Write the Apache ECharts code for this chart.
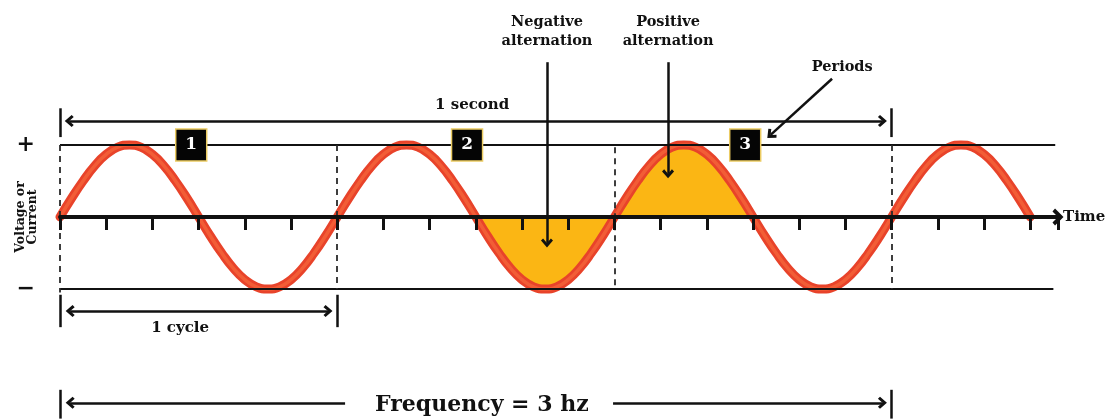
<!DOCTYPE html>
<html>
<head>
<meta charset="utf-8">
<script src="https://cdn.jsdelivr.net/npm/echarts@6/dist/echarts.min.js"></script>
<style>
html,body{margin:0;padding:0;background:#fff;}
#chart{width:1107px;height:419px;}
</style>
</head>
<body>
<div id="chart"></div>
<script>
// ---- data (x in 1/6-cycle units, sampled every 1/24 cycle; y normalised amplitude) ----
const waveValues = [
  0, 0.26, 0.5, 0.71, 0.87, 0.97, 1, 0.97, 0.87, 0.71, 0.5, 0.26,
  0, -0.26, -0.5, -0.71, -0.87, -0.97, -1, -0.97, -0.87, -0.71, -0.5, -0.26,
  0, 0.26, 0.5, 0.71, 0.87, 0.97, 1, 0.97, 0.87, 0.71, 0.5, 0.26,
  0, -0.26, -0.5, -0.71, -0.87, -0.97, -1, -0.97, -0.87, -0.71, -0.5, -0.26,
  0, 0.26, 0.5, 0.71, 0.87, 0.97, 1, 0.97, 0.87, 0.71, 0.5, 0.26,
  0, -0.26, -0.5, -0.71, -0.87, -0.97, -1, -0.97, -0.87, -0.71, -0.5, -0.26,
  0, 0.26, 0.5, 0.71, 0.87, 0.97, 1, 0.97, 0.87, 0.71, 0.5, 0.26, 0
];
const sampleStep = 0.25;            // 1/24 of a cycle
const negativeRange = [36, 48];     // sample indices of the shaded negative alternation
const positiveRange = [48, 60];     // sample indices of the shaded positive alternation
const periodLabels = ['1', '2', '3'];
const calloutTexts = ['Negative\nalternation', 'Positive\nalternation', 'Periods'];
const spanTexts = ['1 second', '1 cycle', 'Frequency = 3 hz'];
const polarityLabels = ['+', '\u2212'];
const axisNames = ['Time', 'Voltage or\nCurrent'];

// ---- build ----
const waveData = waveValues.map((v, i) => [i * sampleStep, v]);
const negData = waveData.slice(negativeRange[0], negativeRange[1] + 1);
const posData = waveData.slice(positiveRange[0], positiveRange[1] + 1);

const FONT = 'DejaVu Serif';
const INK = '#111111';
const chevron = 'path://M0,10 L10,0 L20,10 L16.5,13 L10,6.5 L3.5,13 Z';

function seg(a, b, opts) {
  opts = opts || {};
  return [
    {coord: a, symbol: opts.startArrow ? chevron : 'none', symbolSize: [12, 9]},
    {coord: b, symbol: opts.endArrow ? chevron : 'none', symbolSize: [12, 9],
      lineStyle: {color: opts.color || INK, width: opts.width || 2.5, type: opts.dash || 'solid'}}
  ];
}

const backLines = [
  seg([0, 1], [21.54, 1], {width: 2}),
  seg([0, -1], [21.5, -1], {width: 2})
];
const frontLines = [
  // dashed period boundaries
  seg([0, 1], [0, -1.05], {width: 1.8, dash: [6, 5], color: '#2a2a2a'}),
  seg([6, 1], [6, -1], {width: 1.8, dash: [6, 5], color: '#2a2a2a'}),
  seg([12, 0.97], [12, -0.97], {width: 1.8, dash: [6, 5], color: '#2a2a2a'}),
  seg([18, 1], [18, -1], {width: 1.8, dash: [6, 5], color: '#2a2a2a'}),
  // 1 second bracket
  seg([0, 1.51], [0, 1.11]),
  seg([18, 1.51], [18, 1.11]),
  seg([0.2, 1.333], [17.8, 1.333], {startArrow: true, endArrow: true}),
  // 1 cycle bracket
  seg([0, -1.08], [0, -1.53]),
  seg([6, -1.08], [6, -1.53]),
  seg([0.22, -1.306], [5.8, -1.306], {startArrow: true, endArrow: true}),
  // frequency bracket
  seg([0, -2.4], [0, -2.8]),
  seg([18, -2.4], [18, -2.8]),
  seg([6.17, -2.58], [0.22, -2.58], {endArrow: true}),
  seg([11.97, -2.58], [17.8, -2.58], {endArrow: true}),
  // callout arrows
  seg([10.54, 2.15], [10.54, -0.36], {endArrow: true}),
  seg([13.16, 2.15], [13.16, 0.6], {endArrow: true}),
  seg([16.71, 1.92], [15.38, 1.14], {endArrow: true})
];

const textPoints = [
  {name: spanTexts[0], value: [8.92, 1.556], fs: 15},
  {name: calloutTexts[0], value: [10.54, 2.57], fs: 14.5},
  {name: calloutTexts[1], value: [13.16, 2.57], fs: 14.5},
  {name: calloutTexts[2], value: [16.93, 2.08], fs: 14.5},
  {name: spanTexts[1], value: [2.6, -1.54], fs: 15},
  {name: spanTexts[2], value: [9.13, -2.61], fs: 22}
].map(p => ({
  name: p.name, value: p.value,
  label: {show: true, position: 'inside', formatter: '{b}', color: INK, fontFamily: FONT,
    fontWeight: 'bold', fontSize: p.fs, lineHeight: Math.round(p.fs * 1.3)}
}));

const boxPositions = [[2.84, 1], [8.81, 1], [14.83, 1]];
const boxData = periodLabels.map((t, i) => ({name: t, value: boxPositions[i]}));

const chart = echarts.init(document.getElementById('chart'), null, {renderer: 'canvas'});
chart.setOption({
  animation: false,
  backgroundColor: '#ffffff',
  grid: {left: 60, top: 10, width: 998, height: 414, containLabel: false, outerBoundsMode: 'none'},
  xAxis: {
    type: 'value', min: 0, max: 21.6, interval: 1, z: 10,
    name: axisNames[0], nameLocation: 'end', nameGap: 5,
    nameTextStyle: {color: INK, fontFamily: FONT, fontWeight: 'bold', fontSize: 15, verticalAlign: 'middle'},
    axisLine: {show: true, onZero: true, symbol: ['none', chevron], symbolSize: [17, 13],
      lineStyle: {color: INK, width: 4}},
    axisTick: {show: true, length: 13, lineStyle: {color: INK, width: 3}},
    axisLabel: {show: false},
    splitLine: {show: false}
  },
  yAxis: {
    type: 'value', min: -2.875, max: 2.875,
    name: axisNames[1], nameLocation: 'middle', nameRotate: 90, nameGap: 21, nameMoveOverlap: false,
    nameTextStyle: {color: INK, fontFamily: FONT, fontWeight: 'bold', fontSize: 12.5, lineHeight: 12},
    axisLine: {show: false}, axisTick: {show: false}, splitLine: {show: false},
    axisLabel: {
      show: true, customValues: [1, -1], margin: 25,
      formatter: v => (v > 0 ? polarityLabels[0] : polarityLabels[1]),
      color: INK, fontFamily: FONT, fontWeight: 'bold', fontSize: 22
    }
  },
  series: [
    {
      type: 'line', data: [], z: 1, silent: true, clip: false,
      markLine: {silent: true, animation: false, label: {show: false}, symbol: ['none', 'none'],
        lineStyle: {color: INK, width: 2, type: 'solid'}, data: backLines}
    },
    {
      type: 'line', data: negData, smooth: true, showSymbol: false, z: 2, silent: true,
      lineStyle: {width: 0}, areaStyle: {color: '#FBB614', opacity: 1}
    },
    {
      type: 'line', data: posData, smooth: true, showSymbol: false, z: 2, silent: true,
      lineStyle: {width: 0}, areaStyle: {color: '#FBB614', opacity: 1}
    },
    {
      type: 'line', data: waveData, smooth: true, showSymbol: false, z: 3, silent: true,
      lineStyle: {color: '#E8432A', width: 9, cap: 'round'}
    },
    {
      type: 'line', data: waveData, smooth: true, showSymbol: false, z: 3, silent: true,
      lineStyle: {color: '#F25D36', width: 3.5, cap: 'round'}
    },
    {
      type: 'line', data: [], z: 11, silent: true, clip: false,
      markLine: {silent: true, animation: false, label: {show: false}, symbol: ['none', 'none'],
        lineStyle: {color: INK, width: 2.5, type: 'solid'}, data: frontLines}
    },
    {
      type: 'scatter', data: boxData, z: 12, silent: true, clip: false,
      symbol: 'rect', symbolSize: [31, 32],
      itemStyle: {color: '#050505', borderColor: '#EBCB62', borderWidth: 1.5, opacity: 1},
      label: {show: true, position: 'inside', formatter: '{b}', color: '#ffffff',
        fontFamily: FONT, fontWeight: 'bold', fontSize: 17}
    },
    {
      type: 'scatter', data: textPoints, z: 12, silent: true, clip: false,
      symbolSize: 0, itemStyle: {opacity: 1}
    }
  ]
});
</script>
</body>
</html>
